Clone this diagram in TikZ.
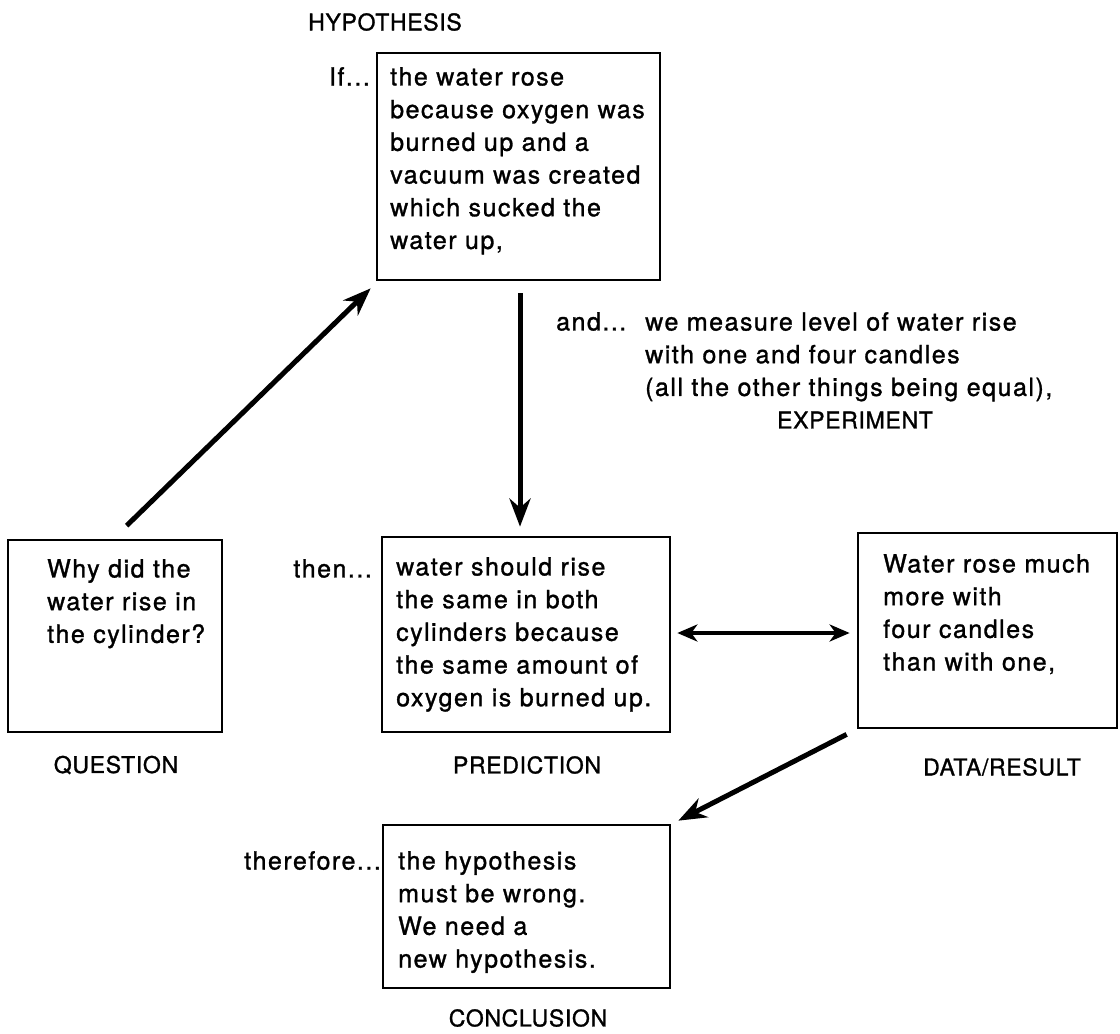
\documentclass[tikz,border=0pt]{standalone}
\usepackage{fontspec}
\setmainfont[LetterSpace=6, FakeBold=1.2]{TeX Gyre Heros}
\newfontfamily\lblfont[LetterSpace=3, FakeBold=1.2]{TeX Gyre Heros}
\usetikzlibrary{arrows.meta,calc}
\tikzset{
  box/.style={draw, line width=2.7pt, rectangle, inner sep=0pt},
  txt/.style={anchor=north west, inner sep=0pt, align=left, font=\fontsize{25}{32.7}\selectfont},
  side/.style={anchor=north east, inner sep=0pt, font=\fontsize{25}{32.7}\selectfont},
  lbl/.style={inner sep=0pt, font=\lblfont\fontsize{23}{26}\selectfont},
  arr/.style={line width=5pt, -{Stealth[length=28pt,width=21pt,inset=9pt]}},
  darr/.style={line width=3.5pt, {Stealth[length=20pt,width=17pt,inset=6pt]}-{Stealth[length=20pt,width=17pt,inset=6pt]}}
}
\begin{document}
\begin{tikzpicture}[x=1pt,y=-1pt]
\useasboundingbox (0,0) rectangle (1120,1034);
% boxes
\node[box, minimum width=283pt, minimum height=227pt] (h) at (518.5,166.5) {};
\node[box, minimum width=214pt, minimum height=192pt] (q) at (115,636) {};
\node[box, minimum width=288pt, minimum height=195pt] (p) at (526,634.5) {};
\node[box, minimum width=259pt, minimum height=195pt] (d) at (987.5,630.5) {};
\node[box, minimum width=287pt, minimum height=163pt] (c) at (526.5,906.5) {};
% box texts
\node[txt] (ht) at (390,67) {the water rose\\because oxygen was\\burned up and a\\vacuum was created\\which sucked the\\water up,};
\node[txt] (qt) at (47,559) {Why did the\\water rise in\\the cylinder?};
\node[txt] (pt) at (396,557) {water should rise\\the same in both\\cylinders because\\the same amount of\\oxygen is burned up.};
\node[txt] (dt) at (883,554) {Water rose much\\more with\\four candles\\than with one,};
\node[txt] (ct) at (398,851) {the hypothesis\\must be wrong.\\We need a\\new hypothesis.};
% side words
\node[side] (if) at (370,67) {If...};
\node[side] (then) at (372,559) {then...};
\node[side] (therefore) at (381,851) {therefore...};
\node[txt] (and) at (556,312) {and...};
\node[txt] (et) at (645,312) {we measure level of water rise\\with one and four candles\\(all the other things being equal),};
% labels
\node[lbl] (hl) at (385,22) {HYPOTHESIS};
\node[lbl] (el) at (855,420) {EXPERIMENT};
\node[lbl] (ql) at (116,765) {QUESTION};
\node[lbl] (pl) at (527,765) {PREDICTION};
\node[lbl] (dl) at (1002,767) {DATA/RESULT};
\node[lbl] (cl) at (528,1018) {CONCLUSION};
% connectors
\draw[arr] ($(q.north west)+(120,-13)$) -- ($(h.south west)+(-5,7)$);
\draw[arr] ($(h.south)+(1.5,12)$) -- ($(p.north)+(-6,-9)$);
\draw[darr] ($(p.east)+(6,-1.5)$) -- ($(d.west)+(-7,2.5)$);
\draw[arr] ($(d.south west)+(-10,5)$) -- ($(c.north east)+(7,-3)$);
\end{tikzpicture}
\end{document}
